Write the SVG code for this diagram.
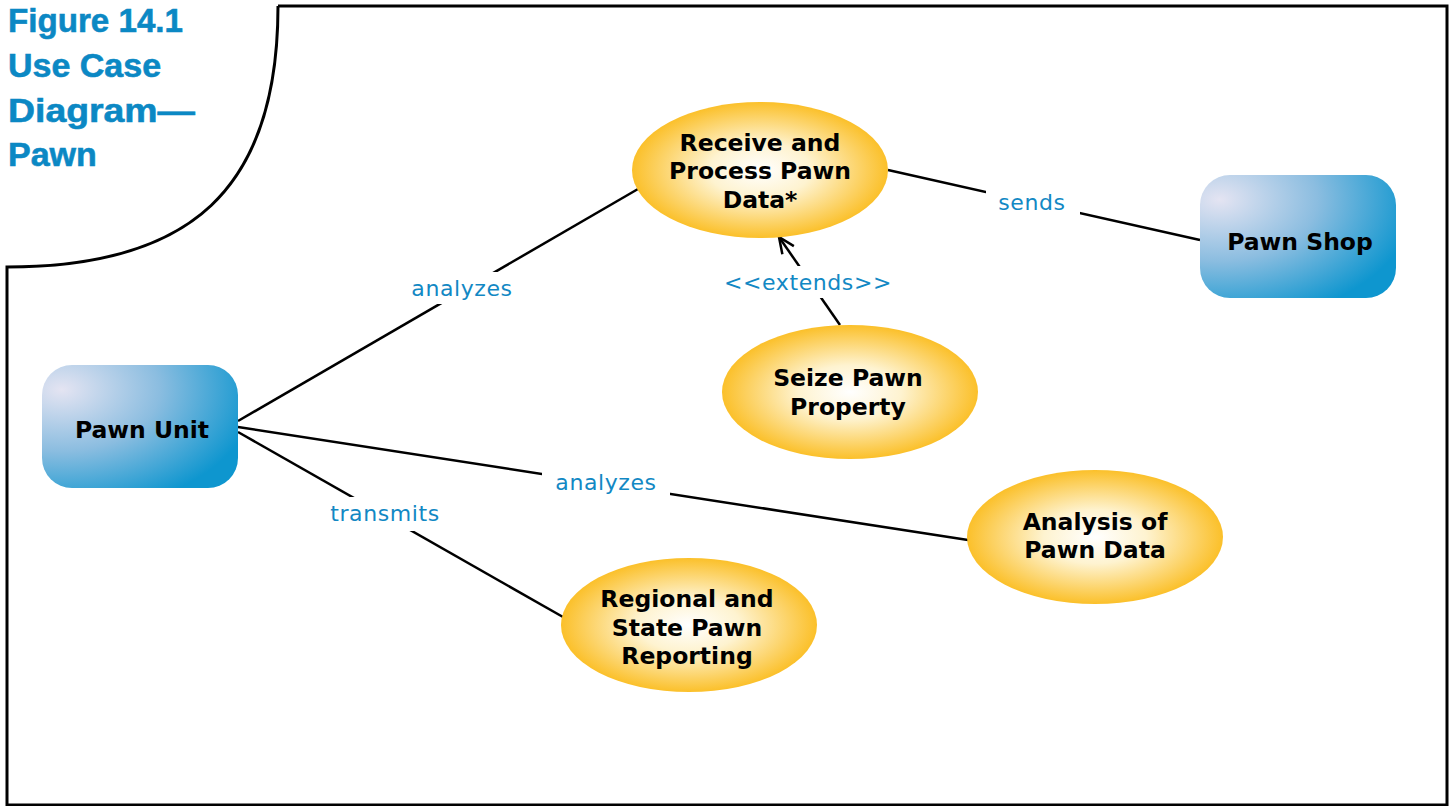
<svg xmlns="http://www.w3.org/2000/svg" width="1452" height="806" viewBox="0 0 1452 806">
<defs>
<radialGradient id="gy" cx="50%" cy="50%" r="50%">
<stop offset="0" stop-color="#ffffff"/>
<stop offset="0.4" stop-color="#fef3d0"/>
<stop offset="1" stop-color="#fbc02a"/>
</radialGradient>
<radialGradient id="gb" cx="10%" cy="20%" r="100%" fx="10%" fy="20%">
<stop offset="0" stop-color="#e4e4f2"/>
<stop offset="0.5" stop-color="#8bbde0"/>
<stop offset="1" stop-color="#0e96cf"/>
</radialGradient>
<marker id="open" markerWidth="20" markerHeight="20" refX="19" refY="8" orient="auto" markerUnits="userSpaceOnUse" viewBox="0 0 20 16">
<path d="M3,1 L19,8 L3,15" fill="none" stroke="#000" stroke-width="2.5"/>
</marker>
<style>
.title{font-family:"Liberation Sans",Arial,sans-serif;font-weight:bold;font-size:34px;fill:#0b88c4;stroke:#0b88c4;stroke-width:0.6px}
.nt{font-family:"DejaVu Sans","Liberation Sans",sans-serif;font-weight:bold;font-size:23.5px;fill:#000;text-anchor:middle}
.lb{font-family:"DejaVu Sans","Liberation Sans",sans-serif;font-size:22px;fill:#1288c4;text-anchor:middle;letter-spacing:0.6px}
.ln{stroke:#000;stroke-width:2.5;fill:none}
.uc{fill:url(#gy)}
.ac{fill:url(#gb)}
</style>
</defs>
<rect width="1452" height="806" fill="#fff"/>
<path d="M278,6 L1447,6 L1447,805 L7,805 L7,267 C190,267 278,190 278,6" fill="none" stroke="#000" stroke-width="3"/>
<g id="title">
<text class="title" x="8" y="32" textLength="175" lengthAdjust="spacingAndGlyphs">Figure 14.1</text>
<text class="title" x="8" y="77">Use Case</text>
<text class="title" x="8" y="122" textLength="187" lengthAdjust="spacingAndGlyphs">Diagram—</text>
<text class="title" x="8" y="166">Pawn</text>
</g>
<g id="connectors">
<line class="ln" x1="238" y1="421" x2="638" y2="189"/>
<line class="ln" x1="238" y1="427" x2="968" y2="540"/>
<line class="ln" x1="238" y1="432" x2="563" y2="617"/>
<line class="ln" x1="888" y1="170" x2="1200" y2="240"/>
<line class="ln" x1="840" y1="325" x2="779" y2="237" marker-end="url(#open)"/>
<rect x="398" y="272" width="128" height="32" fill="#fff"/>
<text class="lb" x="462" y="296">analyzes</text>
<rect x="542" y="466" width="128" height="32" fill="#fff"/>
<text class="lb" x="606" y="490">analyzes</text>
<rect x="320" y="497" width="130" height="34" fill="#fff"/>
<text class="lb" x="385" y="521">transmits</text>
<rect x="986" y="186" width="94" height="32" fill="#fff"/>
<text class="lb" x="1032" y="210">sends</text>
<rect x="716" y="266" width="186" height="32" fill="#fff"/>
<text class="lb" x="808" y="290">&lt;&lt;extends&gt;&gt;</text>
</g>
<g id="receive">
<ellipse class="uc" cx="760" cy="170" rx="128" ry="68"/>
<text class="nt" x="760" y="151">Receive and</text>
<text class="nt" x="760" y="179">Process Pawn</text>
<text class="nt" x="760" y="208">Data*</text>
</g>
<g id="pawnshop">
<rect class="ac" x="1200" y="175" width="196" height="123" rx="30"/>
<text class="nt" x="1300" y="250">Pawn Shop</text>
</g>
<g id="pawnunit">
<rect class="ac" x="42" y="365" width="196" height="123" rx="30"/>
<text class="nt" x="142" y="438">Pawn Unit</text>
</g>
<g id="seize">
<ellipse class="uc" cx="850" cy="392" rx="128" ry="67"/>
<text class="nt" x="848" y="386">Seize Pawn</text>
<text class="nt" x="848" y="415">Property</text>
</g>
<g id="analysis">
<ellipse class="uc" cx="1095" cy="537" rx="128" ry="67"/>
<text class="nt" x="1095" y="530">Analysis of</text>
<text class="nt" x="1095" y="558">Pawn Data</text>
</g>
<g id="regional">
<ellipse class="uc" cx="689" cy="625" rx="128" ry="67"/>
<text class="nt" x="687" y="607">Regional and</text>
<text class="nt" x="687" y="636">State Pawn</text>
<text class="nt" x="687" y="664">Reporting</text>
</g>
</svg>
